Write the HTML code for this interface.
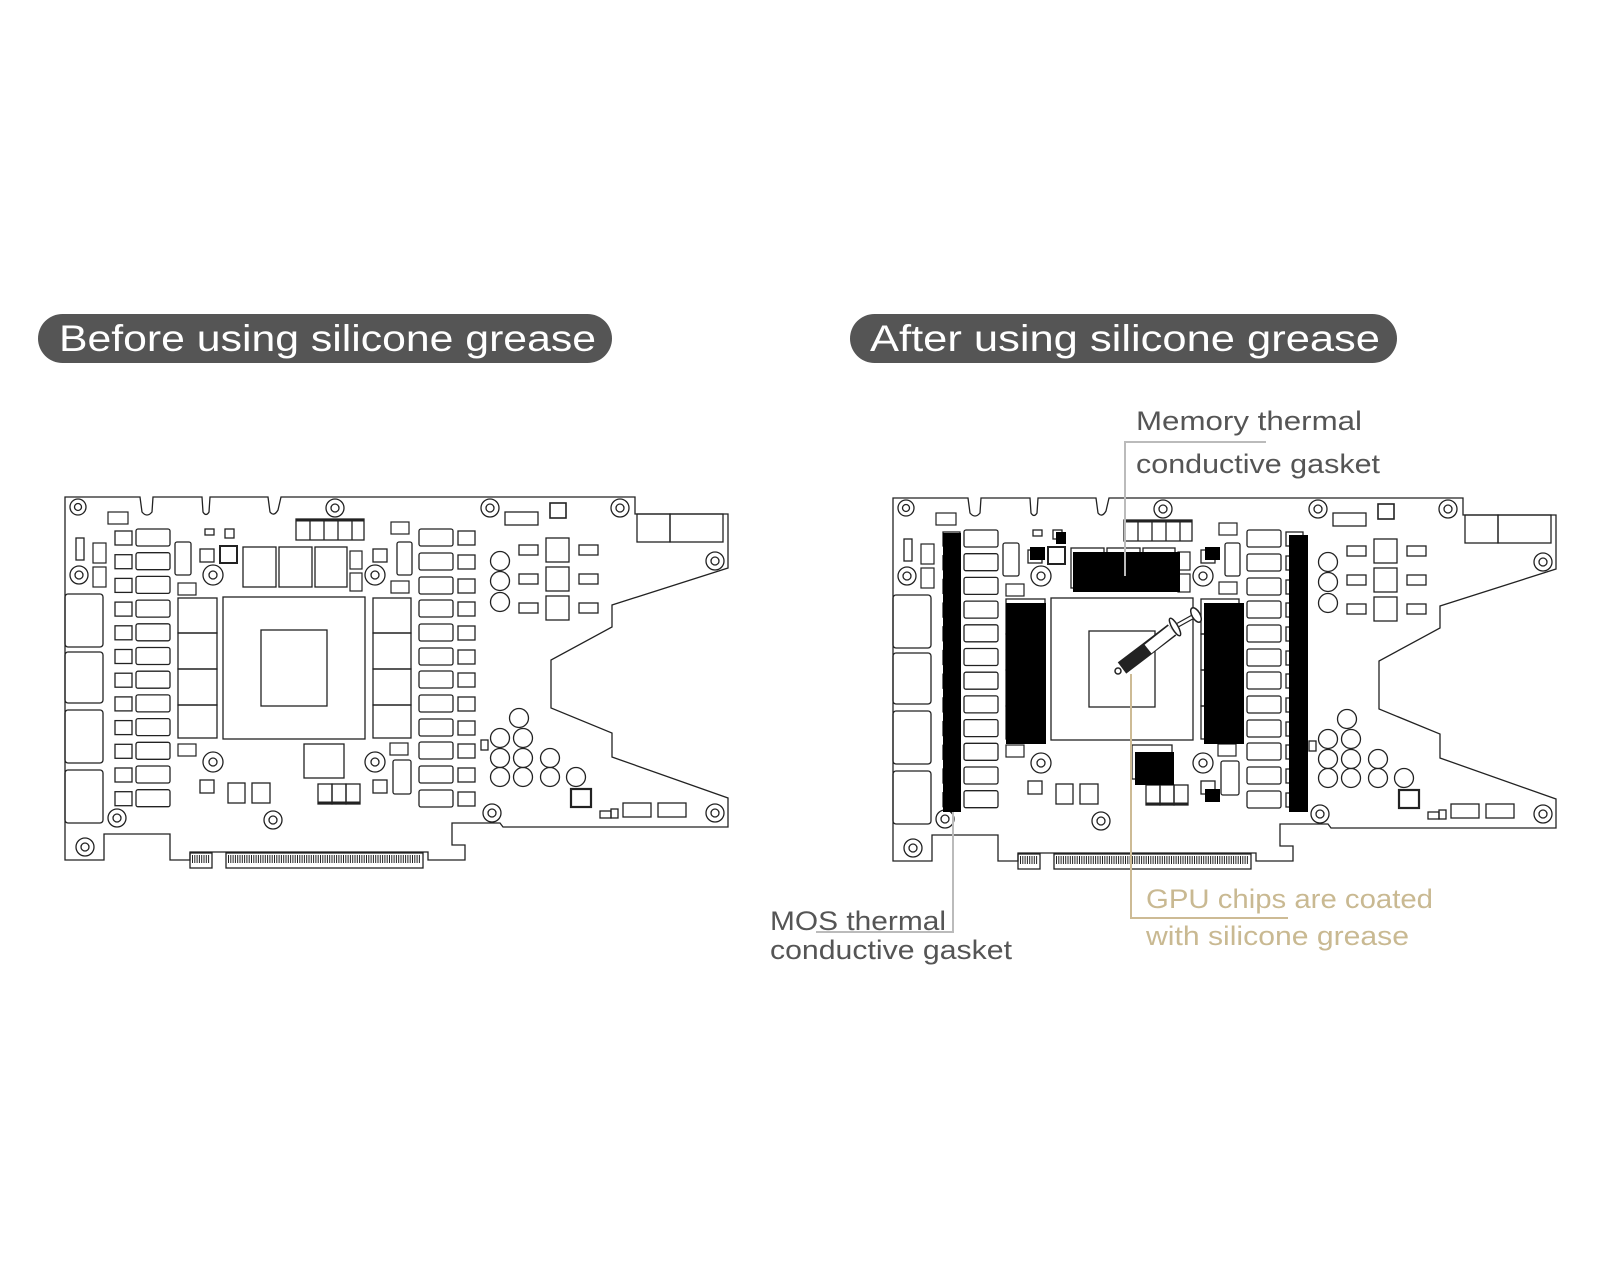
<!DOCTYPE html>
<html><head><meta charset="utf-8"><style>
html,body{margin:0;padding:0;background:#fff;width:1600px;height:1280px;overflow:hidden}
svg{display:block}
</style></head><body>
<svg width="1600" height="1280" viewBox="0 0 1600 1280" xmlns="http://www.w3.org/2000/svg" font-family="Liberation Sans, sans-serif">
<defs>
<g id="vrm" fill="none" stroke="#222" stroke-width="1.3">
   <rect x="115" y="531" width="17" height="14"/><rect x="136" y="529" width="34" height="17" rx="2"/>
</g>
<g id="rcol" fill="none" stroke="#222" stroke-width="1.3">
 <rect x="419" y="529" width="34" height="17" rx="2"/><rect x="419" y="553" width="34" height="17" rx="2"/><rect x="419" y="577" width="34" height="17" rx="2"/><rect x="419" y="600" width="34" height="17" rx="2"/>
 <rect x="419" y="624" width="34" height="17" rx="2"/><rect x="419" y="648" width="34" height="17" rx="2"/><rect x="419" y="671" width="34" height="17" rx="2"/><rect x="419" y="695" width="34" height="17" rx="2"/>
 <rect x="419" y="719" width="34" height="17" rx="2"/><rect x="419" y="742" width="34" height="17" rx="2"/><rect x="419" y="766" width="34" height="17" rx="2"/><rect x="419" y="790" width="34" height="17" rx="2"/>
 <rect x="458" y="531" width="17" height="14"/><rect x="458" y="555" width="17" height="14"/><rect x="458" y="579" width="17" height="14"/><rect x="458" y="602" width="17" height="14"/>
 <rect x="458" y="626" width="17" height="14"/><rect x="458" y="650" width="17" height="14"/><rect x="458" y="673" width="17" height="14"/><rect x="458" y="697" width="17" height="14"/>
 <rect x="458" y="721" width="17" height="14"/><rect x="458" y="744" width="17" height="14"/><rect x="458" y="768" width="17" height="14"/><rect x="458" y="792" width="17" height="14"/>
</g>
<g id="board" fill="none" stroke="#222" stroke-width="1.3">
  <path d="M65,497 L140,497 L142,512 Q147,518 152,512 L153,497 L202,497 L203,512 Q206,517 209,512 L210,497 L268,497 L270,512 Q274,517 278,510 L281,497 L635,497 L635,514 L728,514 L728,568 L612,605 L612,627 L551,660 L551,708 L612,733 L612,757 L728,798 L728,827 L503,827 L500,823 L452,823 L452,845 L465,845 L465,860 L428,860 L428,852 L190,852 L190,860 L170,860 L170,834 L104,834 L104,860 L65,860 Z"/>
  <g>
    <rect x="190" y="853" width="22" height="15"/><rect x="226" y="853" width="197" height="15"/>
    <path d="M192,859 h18 M228,859 h193" stroke-width="8" stroke-dasharray="1 1.3"/>
  </g>
  <rect x="65" y="594" width="38" height="53" rx="3"/><rect x="65" y="652" width="38" height="51" rx="3"/>
  <rect x="65" y="710" width="38" height="53" rx="3"/><rect x="65" y="770" width="38" height="53" rx="3"/>
  <rect x="223" y="597" width="142" height="142"/><rect x="261" y="630" width="66" height="76"/>
  <rect x="178" y="598" width="39" height="35"/><rect x="178" y="633" width="39" height="36"/><rect x="178" y="669" width="39" height="36"/><rect x="178" y="705" width="39" height="33"/>
  <rect x="373" y="598" width="38" height="35"/><rect x="373" y="633" width="38" height="36"/><rect x="373" y="669" width="38" height="36"/><rect x="373" y="705" width="38" height="33"/>
  <rect x="243" y="547" width="33" height="40"/><rect x="279" y="547" width="33" height="40"/><rect x="315" y="547" width="32" height="40"/>
  <rect x="296" y="519" width="68" height="21"/><path d="M310,519v21M324,519v21M338,519v21M352,519v21"/><path d="M296,520h68" stroke-width="3"/>
  <rect x="304" y="744" width="40" height="34"/>
  <rect x="318" y="784" width="14" height="20"/><rect x="332" y="784" width="14" height="20"/><rect x="346" y="784" width="14" height="20"/><path d="M318,803h42" stroke-width="3"/>
  <rect x="228" y="783" width="17" height="20"/><rect x="252" y="783" width="18" height="20"/>
  <rect x="200" y="780" width="14" height="13"/><rect x="373" y="780" width="14" height="13"/>
  <rect x="393" y="760" width="18" height="34" rx="2"/>
  <rect x="175" y="542" width="16" height="33" rx="2"/><rect x="397" y="542" width="15" height="33" rx="2"/>
  <rect x="200" y="549" width="14" height="13"/><rect x="373" y="549" width="14" height="13"/>
  <rect x="220" y="546" width="17" height="17" stroke-width="2"/>
  <rect x="205" y="529" width="9" height="6"/><rect x="225" y="529" width="9" height="9"/>
  <rect x="76" y="538" width="8" height="22"/>
  <g stroke-width="1.2">
   <rect x="108" y="512" width="20" height="12"/><rect x="93" y="543" width="13" height="20"/><rect x="93" y="567" width="13" height="20"/>
   <rect x="178" y="583" width="18" height="12"/><rect x="391" y="522" width="18" height="12"/><rect x="350" y="551" width="12" height="18"/><rect x="350" y="573" width="12" height="18"/>
   <rect x="391" y="581" width="18" height="12"/><rect x="178" y="744" width="18" height="12"/><rect x="390" y="743" width="18" height="12"/>
  </g>
  <g>
   <circle cx="78" cy="507" r="8"/><circle cx="78" cy="507" r="3.5"/>
   <circle cx="79" cy="575" r="9"/><circle cx="79" cy="575" r="4"/>
   <circle cx="213" cy="575" r="10"/><circle cx="213" cy="575" r="4"/>
   <circle cx="375" cy="575" r="10"/><circle cx="375" cy="575" r="4"/>
   <circle cx="335" cy="508" r="9"/><circle cx="335" cy="508" r="4"/>
   <circle cx="213" cy="762" r="10"/><circle cx="213" cy="762" r="4"/>
   <circle cx="375" cy="762" r="10"/><circle cx="375" cy="762" r="4"/>
   <circle cx="117" cy="818" r="9"/><circle cx="117" cy="818" r="4"/>
   <circle cx="273" cy="820" r="9"/><circle cx="273" cy="820" r="4"/>
   <circle cx="85" cy="847" r="9"/><circle cx="85" cy="847" r="4"/>
   <circle cx="490" cy="508" r="9"/><circle cx="490" cy="508" r="4"/>
   <circle cx="620" cy="508" r="9"/><circle cx="620" cy="508" r="4"/>
   <circle cx="715" cy="561" r="9"/><circle cx="715" cy="561" r="4"/>
   <circle cx="492" cy="813" r="9"/><circle cx="492" cy="813" r="4"/>
   <circle cx="715" cy="813" r="9"/><circle cx="715" cy="813" r="4"/>
  </g>
  <rect x="505" y="512" width="33" height="13"/><rect x="550" y="503" width="16" height="15" stroke-width="1.6"/>
  <rect x="637" y="514" width="33" height="28"/><rect x="670" y="514" width="53" height="28"/>
  <g>
   <circle cx="500" cy="561" r="9.5"/><circle cx="500" cy="581" r="9.5"/><circle cx="500" cy="602" r="9.5"/>
   <rect x="519" y="545" width="19" height="10"/><rect x="519" y="574" width="19" height="10"/><rect x="519" y="603" width="19" height="10"/>
   <rect x="546" y="538" width="23" height="24"/><rect x="546" y="567" width="23" height="24"/><rect x="546" y="596" width="23" height="24"/>
   <rect x="579" y="545" width="19" height="10"/><rect x="579" y="574" width="19" height="10"/><rect x="579" y="603" width="19" height="10"/>
  </g>
  <g>
   <circle cx="519" cy="718" r="9.5"/>
   <circle cx="500" cy="738" r="9.5"/><circle cx="500" cy="758" r="9.5"/><circle cx="500" cy="777" r="9.5"/>
   <circle cx="523" cy="738" r="9.5"/><circle cx="523" cy="758" r="9.5"/><circle cx="523" cy="777" r="9.5"/>
   <circle cx="550" cy="758" r="9.5"/><circle cx="550" cy="777" r="9.5"/><circle cx="576" cy="777" r="9.5"/>
  </g>
  <rect x="571" y="789" width="20" height="18" stroke-width="2.2"/>
  <rect x="600" y="811" width="11" height="7"/><rect x="611" y="809" width="7" height="9"/>
  <rect x="623" y="803" width="28" height="14"/><rect x="658" y="803" width="28" height="14"/>
  <rect x="481" y="740" width="7" height="10"/>
</g>
<g id="full">
 <use href="#board"/>
 <use href="#vrm" y="0"/><use href="#vrm" y="23.7"/><use href="#vrm" y="47.4"/><use href="#vrm" y="71.1"/><use href="#vrm" y="94.8"/><use href="#vrm" y="118.5"/>
 <use href="#vrm" y="142.2"/><use href="#vrm" y="165.9"/><use href="#vrm" y="189.6"/><use href="#vrm" y="213.3"/><use href="#vrm" y="237"/><use href="#vrm" y="260.7"/>
 <use href="#rcol"/>
</g>
</defs>

<rect x="38" y="314" width="574" height="49" rx="24.5" fill="#555"/>
<text x="59" y="351" font-size="37" fill="#fff" textLength="537" lengthAdjust="spacingAndGlyphs">Before using silicone grease</text>
<rect x="850" y="314" width="547" height="49" rx="24.5" fill="#555"/>
<text x="870" y="351" font-size="37" fill="#fff" textLength="510" lengthAdjust="spacingAndGlyphs">After using silicone grease</text>

<use href="#full"/>
<g transform="translate(828,1)"><use href="#full"/></g>

<g fill="#000">
 <rect x="943" y="533" width="18" height="279"/>
 <rect x="1289" y="535" width="19" height="277"/>
 <rect x="1073" y="552" width="107" height="40"/>
 <rect x="1006" y="603" width="40" height="141"/>
 <rect x="1204" y="603" width="40" height="141"/>
 <rect x="1135" y="752" width="39" height="33"/>
 <rect x="1205" y="789" width="15" height="13"/>
 <rect x="1056" y="532" width="10" height="12"/>
 <rect x="1030" y="547" width="15" height="13"/>
 <rect x="1205" y="547" width="15" height="13"/>
</g>
<g stroke="#222" stroke-width="1.5" fill="#fff">
 <line x1="1178" y1="625" x2="1196" y2="615" stroke-width="5"/>
 <line x1="1178" y1="625" x2="1196" y2="615" stroke="#fff" stroke-width="2.5"/>
 <ellipse cx="1196" cy="615" rx="4" ry="8" transform="rotate(-30 1196 615)"/>
 <ellipse cx="1175" cy="627" rx="3" ry="10" transform="rotate(-30 1175 627)"/>
 <line x1="1122" y1="668" x2="1172" y2="630" stroke-width="14" stroke="#222"/>
 <line x1="1148" y1="649" x2="1172" y2="630" stroke-width="11" stroke="#fff"/>
 <circle cx="1118" cy="671" r="3"/>
</g>
<g fill="none" stroke="#bbb" stroke-width="2">
 <path d="M1125,576 V442 H1266"/>
 <path d="M953,812 V932 H816"/>
</g>
<path d="M1131,674 V918 H1288" fill="none" stroke="#cdbb95" stroke-width="2"/>
<g font-size="27" fill="#555">
 <text x="1136" y="430" textLength="226" lengthAdjust="spacingAndGlyphs">Memory thermal</text>
 <text x="1136" y="473" textLength="244" lengthAdjust="spacingAndGlyphs">conductive gasket</text>
 <text x="770" y="930" textLength="176" lengthAdjust="spacingAndGlyphs">MOS thermal</text>
 <text x="770" y="959" textLength="242" lengthAdjust="spacingAndGlyphs">conductive gasket</text>
</g>
<g font-size="27" fill="#c9b992">
 <text x="1146" y="908" textLength="287" lengthAdjust="spacingAndGlyphs">GPU chips are coated</text>
 <text x="1146" y="945" textLength="263" lengthAdjust="spacingAndGlyphs">with silicone grease</text>
</g>
</svg>
</body></html>
